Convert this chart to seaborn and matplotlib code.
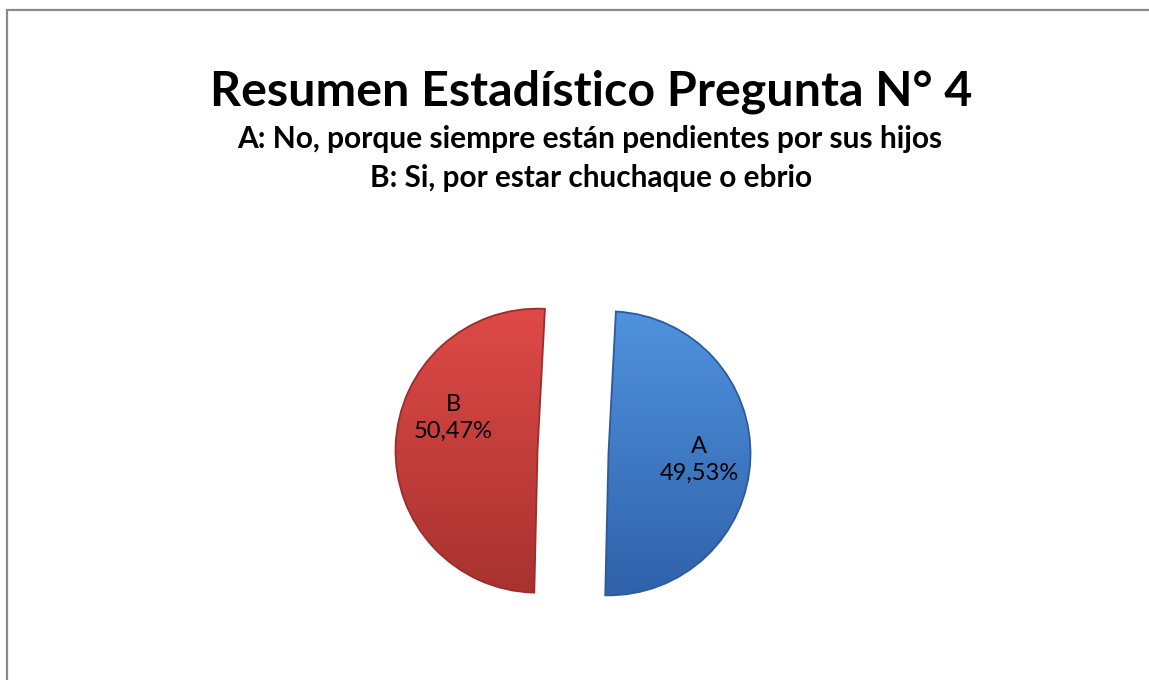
import numpy as np
import matplotlib
matplotlib.use("Agg")
import matplotlib.pyplot as plt
import seaborn as sns
from matplotlib.patches import Rectangle
from matplotlib.colors import LinearSegmentedColormap

# ---- data ----
categories = ["A", "B"]
percentages = [49.53, 50.47]
pct_labels = ["49,53%", "50,47%"]
title_text = "Resumen Estadístico Pregunta N° 4"
subtitle_lines = ["A: No, porque siempre están pendientes por sus hijos",
                  "B: Si, por estar chuchaque o ebrio"]

sns.set_theme(style="white")
plt.rcParams['font.family'] = ['Lato', 'DejaVu Sans']

W, H = 1149, 680
fig = plt.figure(figsize=(W / 100, H / 100), dpi=100)
fig.patch.set_facecolor('white')

# frame border
fig.add_artist(Rectangle((7 / W, -0.05), 1.2, (H - 10) / H + 0.05, transform=fig.transFigure,
                         fill=False, edgecolor='#8a8a8a', linewidth=1.6))

# pie axes
R_px = 142
cx, cy = 573, 452
lim = 1.6
side = 2 * lim * R_px
ax = fig.add_axes([(cx - side / 2) / W, (H - cy - side / 2) / H, side / W, side / H])

palette = {"A": ("#5092de", "#2f62aa"), "B": ("#de4a47", "#a8322f")}
edge = {"A": "#2c5a9c", "B": "#9a2e2b"}

wedges, _ = ax.pie(percentages, colors=[palette[c][0] for c in categories],
                   startangle=87, counterclock=False, explode=[0.25, 0.25], radius=1,
                   wedgeprops=dict(linewidth=1.3))

grad = np.linspace(0, 1, 256).reshape(-1, 1)
for w, c in zip(wedges, categories):
    top, bot = palette[c]
    cmap = LinearSegmentedColormap.from_list("g" + c, [bot, top])
    x0, y0 = w.center
    im = ax.imshow(grad, extent=[x0 - 1, x0 + 1, y0 - 1, y0 + 1], origin='lower',
                   cmap=cmap, aspect='auto', zorder=0.5, interpolation='bilinear')
    im.set_clip_path(w)
    w.set_facecolor('none')
    w.set_edgecolor(edge[c])
    w.set_zorder(1)

label_offsets = {"A": (0.637, -0.046), "B": (-0.595, 0.23)}
for w, c, p in zip(wedges, categories, pct_labels):
    dx, dy = label_offsets[c]
    ax.text(w.center[0] + dx, w.center[1] + dy, f"{c}\n{p}", ha='center', va='center',
            fontsize=17, color='black', linespacing=1.35, zorder=3)

ax.set_xlim(-lim, lim)
ax.set_ylim(-lim, lim)
ax.set_aspect('auto')
ax.axis('off')

# titles, fitted to measured widths
renderer = fig.canvas.get_renderer()

def fitted_text(s, xc, baseline_px, width_px, fs0):
    t = fig.text(xc / W, 1 - baseline_px / H, s, ha='center', va='baseline',
                 fontsize=fs0, fontweight='bold', color='black')
    wpx = t.get_window_extent(renderer).width
    t.set_fontsize(fs0 * width_px / wpx)
    return t

fitted_text(title_text, 591.5, 105, 763, 32)
fitted_text(subtitle_lines[0], 589.5, 148, 707, 16)
fitted_text(subtitle_lines[1], 591.5, 187, 443, 16)

fig.savefig("out.png", dpi=100, facecolor='white')
